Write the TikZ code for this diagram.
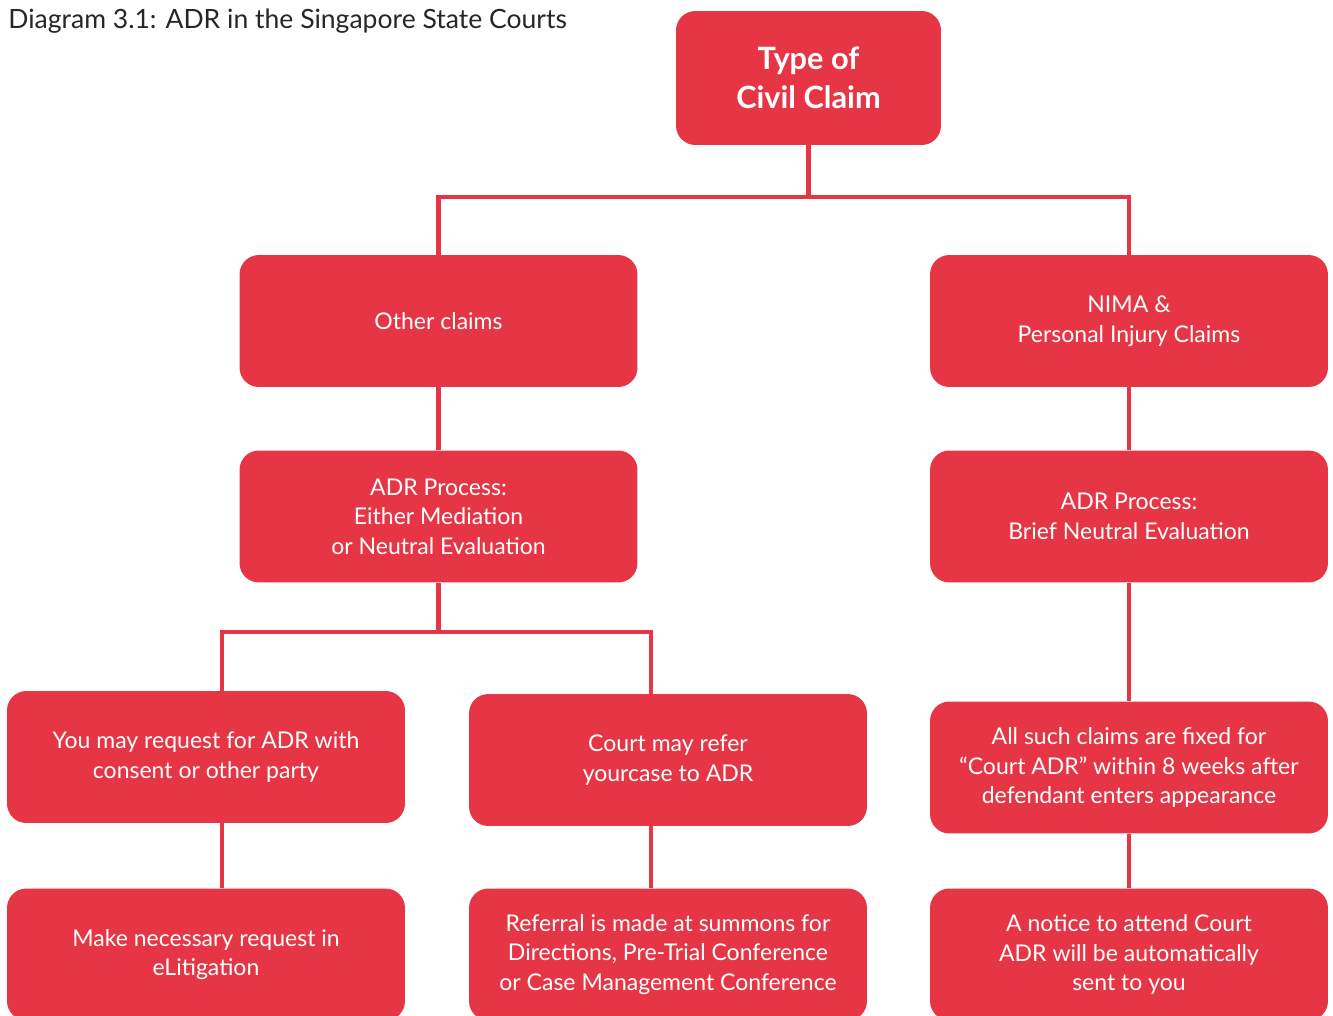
\documentclass[tikz,border=0pt]{standalone}
\usepackage{fontspec}
\setmainfont{Lato}
\definecolor{adrRed}{HTML}{E63645}
\begin{document}
\begin{tikzpicture}
[x=0.02cm,y=-0.02cm,
  boxDecorate/.style={shape=rectangle,fill=adrRed,text=white,rounded corners=11pt,
    align=center,inner sep=0pt,minimum width=7.96cm,minimum height=2.64cm,
    font=\fontsize{13.1}{16.8}\selectfont},
  lineDecorate/.style={-,draw=adrRed,line width=2.3pt}]
\useasboundingbox (0,0) rectangle (1333,1015);
%% title
\node (title) at (8,28) [anchor=base west,inner sep=0pt,text=black!85,font=\fontsize{15.1}{18}\selectfont]
  {Diagram 3.1: ADR in the Singapore State Courts};
%% boxes
\node (type) at (808.5,78) [boxDecorate,minimum width=5.3cm,minimum height=2.68cm,
  font=\bfseries\fontsize{17.5}{22}\selectfont] {Type of\\Civil Claim};
\foreach \nodename/\x/\y/\txt in {
  other/438.5/321/{Other claims},
  nima/1129/321/{NIMA \&\\Personal Injury Claims},
  adrL/438.5/516.5/{ADR Process:\\Either Mediation\\or Neutral Evaluation},
  adrR/1129/516.5/{ADR Process:\\Brief Neutral Evaluation},
  request/206/757/{You may request for ADR with\\consent or other party},
  refer/668/760/{Court may refer\\yourcase to ADR},
  fixed/1129/767.5/{All such claims are fixed for\\“Court ADR” within 8 weeks after\\defendant enters appearance},
  elit/206/954.5/{Make necessary request in\\eLitigation},
  referral/668/954.5/{Referral is made at summons for\\Directions, Pre-Trial Conference\\or Case Management Conference},
  notice/1129/954.5/{A notice to attend Court\\ADR will be automatically\\sent to you}}
{
  \node (\nodename) at (\x,\y) [boxDecorate] {\txt};
}
%% joints
\coordinate (topJoin) at (808.5,197);
\coordinate (adrJoin) at (438.5,632);
\coordinate (requestBend) at (222,632);
\coordinate (referBend) at (651,632);
%% lines
\draw[lineDecorate] (type) -- (topJoin);
\draw[lineDecorate] (other) |- (topJoin) -| (nima);
\draw[lineDecorate] (adrL) -- (adrJoin);
\draw[lineDecorate] (request.north -| requestBend) -- (requestBend) -- (referBend) -- (refer.north -| referBend);
\draw[lineDecorate] (request.south -| requestBend) -- (elit.north -| requestBend);
\draw[lineDecorate] (refer.south -| referBend) -- (referral.north -| referBend);
\path
\foreach \startnode/\endnode in {other/adrL, nima/adrR, adrR/fixed, fixed/notice}
{
  (\startnode) edge[lineDecorate] (\endnode)
};
\end{tikzpicture}
\end{document}
